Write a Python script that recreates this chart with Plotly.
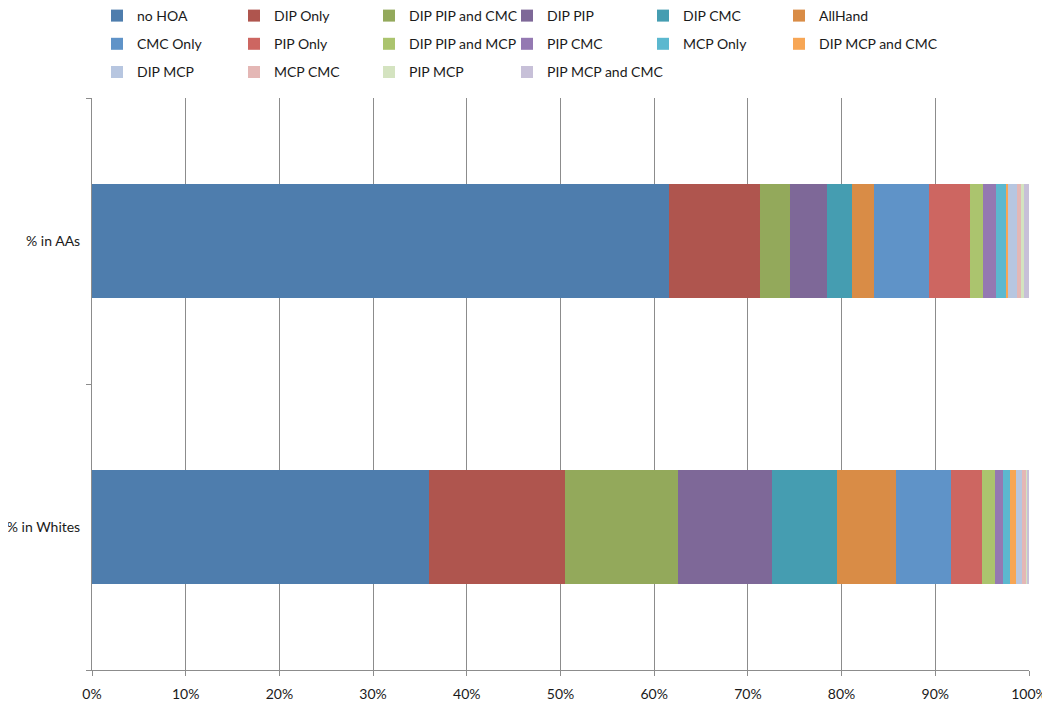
import plotly.graph_objects as go

categories = ["% in Whites", "% in AAs"]

series_names = [
    "no HOA", "DIP Only", "DIP PIP and CMC", "DIP PIP", "DIP CMC", "AllHand",
    "CMC Only", "PIP Only", "DIP PIP and MCP", "PIP CMC", "MCP Only", "DIP MCP and CMC",
    "DIP MCP", "MCP CMC", "PIP MCP", "PIP MCP and CMC",
]

# percentages: [Whites, AAs]
no_hoa = [36.0, 61.6]
dip_only = [14.5, 9.8]
dip_pip_cmc = [12.1, 3.1]
dip_pip = [10.0, 4.0]
dip_cmc = [7.0, 2.7]
allhand = [6.3, 2.35]
cmc_only = [5.9, 5.8]
pip_only = [3.3, 4.4]
dip_pip_mcp = [1.4, 1.4]
pip_cmc = [0.8, 1.4]
mcp_only = [0.75, 1.15]
dip_mcp_cmc = [0.68, 0.1]
dip_mcp = [0.64, 1.0]
mcp_cmc = [0.43, 0.43]
pip_mcp = [0.1, 0.28]
pip_mcp_cmc = [0.18, 0.57]

series_values = [
    no_hoa, dip_only, dip_pip_cmc, dip_pip, dip_cmc, allhand,
    cmc_only, pip_only, dip_pip_mcp, pip_cmc, mcp_only, dip_mcp_cmc,
    dip_mcp, mcp_cmc, pip_mcp, pip_mcp_cmc,
]

colors = [
    "#4E7DAD", "#AF554E", "#93A95B", "#7E6898", "#459DB1", "#D98C46",
    "#5F93C8", "#CD6661", "#ABC46E", "#9479B2", "#5BB8CF", "#F7A655",
    "#B7C6E0", "#E4B7B5", "#D4E3C0", "#C7C0D8",
]

tick_vals = [i / 10 for i in range(11)]
tick_text = [f"{i * 10}%" for i in range(11)]

N_COLS = 6
legend_ids = ["legend"] + [f"legend{k}" for k in range(2, N_COLS + 1)]

totals = [sum(v[j] for v in series_values) for j in range(2)]

fig = go.Figure()
for i, (name, vals, col) in enumerate(zip(series_names, series_values, colors)):
    frac = [vals[j] / totals[j] for j in range(2)]
    fig.add_trace(go.Bar(
        name=name, y=categories, x=frac, orientation="h",
        marker=dict(color=col, line=dict(width=0)),
        legend=legend_ids[i % N_COLS], legendgroup=name,
    ))

font_family = "Lato, 'Liberation Sans', sans-serif"
text_color = "#1a1a1a"

# page body offsets the figure by 8px; figure coords = page coords - 8
OFF = 8
FIG_W, FIG_H = 1050 - OFF, 706 - OFF
plot_l, plot_r, plot_t, plot_b = 92 - OFF, 1029 - OFF, 98 - OFF, 670 - OFF
plot_w = plot_r - plot_l
plot_h = plot_b - plot_t

# legend column marker centres (page px)
col_px = [121, 258, 393, 531, 667, 803]
legend_top_fig = 16 - OFF - 16

legends = {}
for k, lid in enumerate(legend_ids):
    legends[lid] = dict(
        orientation="v", xanchor="left", yanchor="top",
        x=(col_px[k] - OFF - 3 - 21 - plot_l) / plot_w,
        y=(plot_b - legend_top_fig) / plot_h,
        font=dict(family=font_family, size=14, color=text_color),
        itemwidth=30, bgcolor="rgba(0,0,0,0)",
        tracegroupgap=7, traceorder="grouped",
    )

fig.update_layout(
    width=FIG_W, height=FIG_H,
    margin=dict(l=plot_l, r=FIG_W - plot_r, t=plot_t, b=FIG_H - plot_b, autoexpand=False),
    barmode="stack", bargap=0.6,
    plot_bgcolor="white", paper_bgcolor="white",
    font=dict(family=font_family, size=14, color=text_color),
    xaxis=dict(
        range=[0, 1], tickvals=tick_vals, ticktext=tick_text,
        showgrid=True, gridcolor="#8C8C8C", gridwidth=1,
        showline=True, linecolor="#8C8C8C", linewidth=1,
        ticks="outside", ticklen=5, tickcolor="#8C8C8C",
        zeroline=False, ticklabelstandoff=6, automargin=False,
        tickfont=dict(size=14),
    ),
    yaxis=dict(
        showline=True, linecolor="#8C8C8C", linewidth=1,
        ticks="outside", ticklen=5, tickcolor="#8C8C8C", tickson="boundaries",
        showgrid=False, ticklabelstandoff=8, automargin=False,
        tickfont=dict(size=14),
    ),
    **legends,
)

fig.write_html("out.html")
